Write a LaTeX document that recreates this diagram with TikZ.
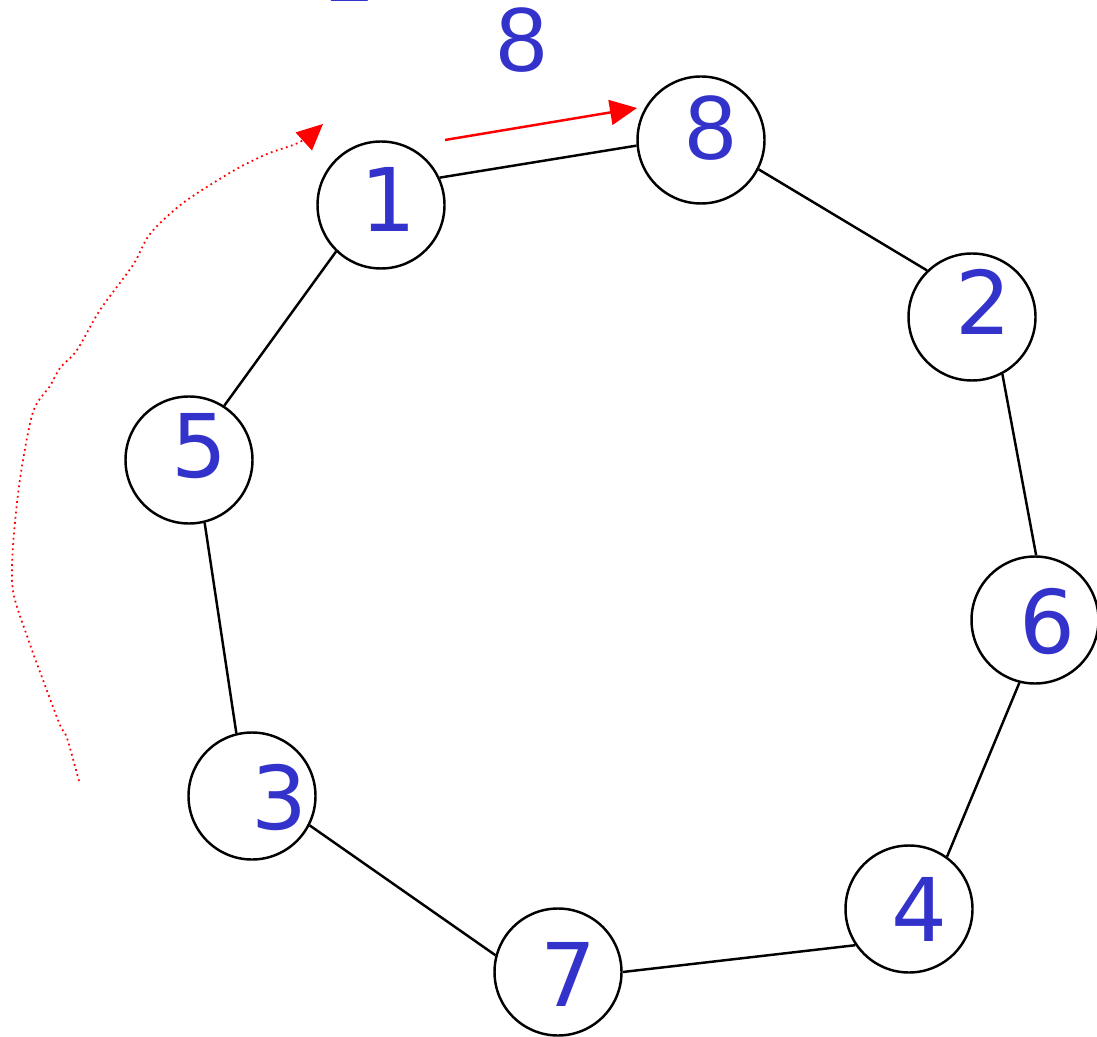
\documentclass[tikz,border=0pt]{standalone}
\usepackage{fontspec}
\setmainfont{Liberation Sans}
\newfontfamily\handfont{DejaVu Sans}
\usetikzlibrary{arrows.meta,calc}
\definecolor{cNum}{HTML}{3333CC}
\definecolor{cHop}{HTML}{FF0000}
\tikzset{
  vtx/.style  ={circle,draw=black,line width=0.7pt,minimum size=1.27cm,inner sep=0pt},
  num/.style  ={text=cNum,inner sep=0pt,font=\handfont\fontsize{25}{30}\selectfont},
  numb/.style ={num,font=\fontsize{26}{30}\selectfont},
  edge/.style ={line width=0.7pt},
  hop/.style  ={-{Triangle[length=2.7mm,width=2.5mm]},cHop,line width=0.7pt},
  trail/.style={-{Triangle[length=2.6mm,width=2.4mm]},cHop,densely dotted,line width=0.5pt},
}

\begin{document}
\begin{tikzpicture}
\useasboundingbox (0,0) rectangle (10.97,-10.37);
\clip (0,0) rectangle (10.97,-10.37);
% ring
\node[vtx] (v1) at (3.81,-2.05) {};
\node[vtx] (v8) at (7.01,-1.40) {};
\node[vtx] (v2) at (9.72,-3.17) {};
\node[vtx] (v6) at (10.35,-6.20) {};
\node[vtx] (v4) at (9.09,-9.09) {};
\node[vtx] (v7) at (5.58,-9.72) {};
\node[vtx] (v3) at (2.52,-7.96) {};
\node[vtx] (v5) at (1.89,-4.60) {};
\node[num]  (n1) at ($(v1)+(0.07,0.06)$) {1};
\node[numb] (n8) at ($(v8)+(0.10,0.12)$) {8};
\node[num]  (n2) at ($(v2)+(0.11,0.15)$) {2};
\node[num]  (n6) at ($(v6)+(0.12,-0.02)$) {6};
\node[num]  (n4) at ($(v4)+(0.10,0.00)$) {4};
\node[num]  (n7) at ($(v7)+(0.10,-0.02)$) {7};
\node[num]  (n3) at ($(v3)+(0.27,-0.02)$) {3};
\node[num]  (n5) at ($(v5)+(0.10,0.14)$) {5};
\draw[edge] (v1.25)  -- (v8.185);
\draw[edge] (v8.-27) -- (v2.134);
\draw[edge] (v2.-62) -- (v6.89);
\draw[edge] (v6.-104) -- (v4.54);
\draw[edge] (v4.214) -- (v7.0);
\draw[edge] (v7.165) -- (v3.-27);
\draw[edge] (v3.104) -- (v5.-76);
\draw[edge] (v5.57)  -- (v1.226);
% step labels
\node[num]  (s1) at (3.48,0.31) {1};
\node[numb] (s8) at (5.22,-0.40) {8};
% moves
\coordinate (h0) at (4.45,-1.40);
\coordinate (h1) at (6.37,-1.08);
\draw[hop] (h0) -- (h1);
\coordinate (t0) at (0.79,-7.81);
\coordinate (t1) at (3.23,-1.24);
\draw[trail] plot[smooth,tension=0.5] coordinates {(t0) (0.67,-7.38) (0.60,-7.25)
  (0.43,-6.80) (0.27,-6.36) (0.13,-5.91) (0.13,-5.46) (0.20,-4.79) (0.33,-4.12)
  (0.50,-3.86) (0.60,-3.68) (0.77,-3.50) (1.00,-3.10) (1.33,-2.65) (1.50,-2.34)
  (1.83,-2.03) (2.33,-1.71) (2.67,-1.54) (3.00,-1.42) (t1)};
\end{tikzpicture}
\end{document}
